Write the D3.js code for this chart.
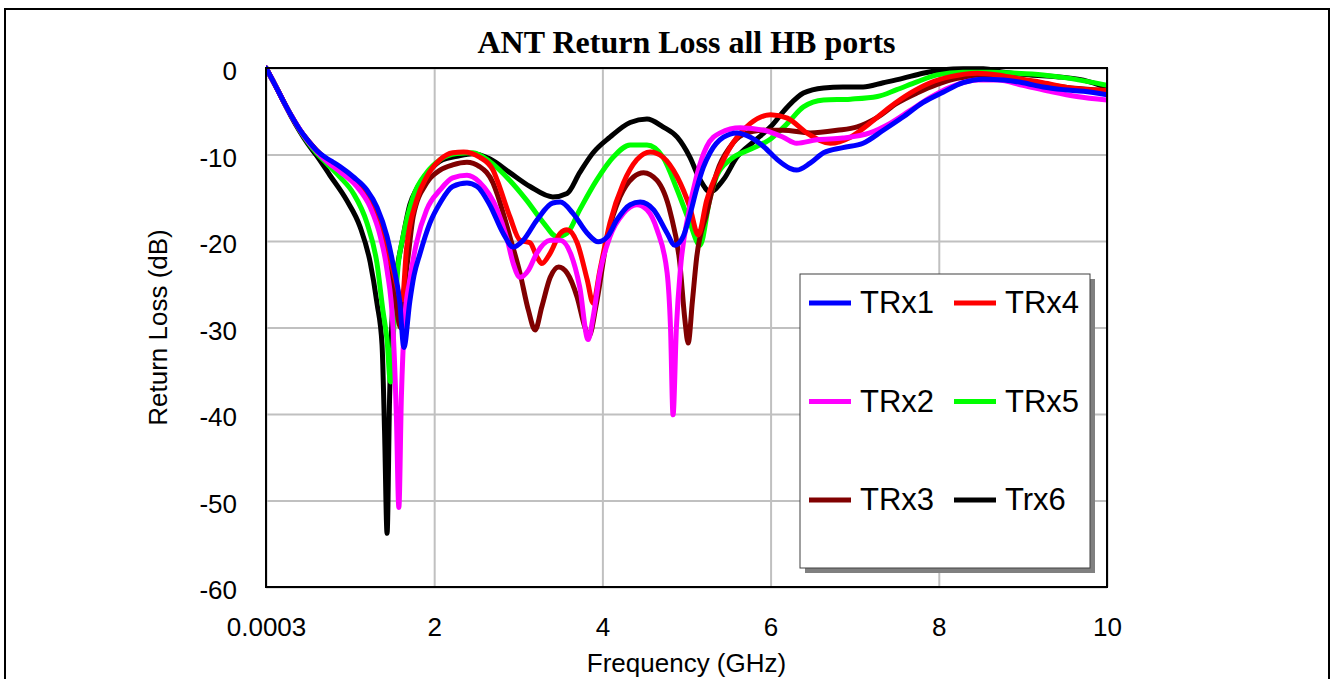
<!DOCTYPE html>
<html>
<head>
<meta charset="utf-8">
<script src="https://cdn.jsdelivr.net/npm/d3@7"></script>
<style>
  body { margin: 0; background: #fff; }
  text { font-family: Arial, "Liberation Sans", sans-serif; }
</style>
</head>
<body>
<svg id="chart" width="1333" height="679"></svg>
<script>
// series names + colours
var seriesNames = ["TRx1", "TRx2", "TRx3", "TRx4", "TRx5", "Trx6"];
var seriesColors = ["#0000ff", "#ff00ff", "#800000", "#ff0000", "#00ff00", "#000000"];

// tick labels
var xTicks = [0.0003, 2, 4, 6, 8, 10];
var xTickLabels = ["0.0003", "2", "4", "6", "8", "10"];
var yTicks = [0, -10, -20, -30, -40, -50, -60];
var yTickLabels = ["0", "-10", "-20", "-30", "-40", "-50", "-60"];

// [frequency GHz, return loss dB]
var trx1 = [[0.0003,0],[0.1,-1.8],[0.2,-3.7],[0.3,-5.5],[0.4,-7.1],[0.5,-8.4],[0.6,-9.5],[0.7,-10.3],[0.8,-10.9],[0.88,-11.4],[1.04,-12.6],[1.2,-14.1],[1.32,-16.1],[1.44,-19.5],[1.51,-22.6],[1.59,-27],[1.64,-32.3],[1.71,-27],[1.76,-24],[1.83,-21.5],[1.95,-17.9],[2.07,-15.6],[2.22,-13.7],[2.39,-13.3],[2.51,-13.7],[2.66,-15.8],[2.82,-19.1],[2.94,-20.7],[3.06,-19.9],[3.22,-17.6],[3.41,-15.6],[3.5,-15.5],[3.65,-16.8],[3.82,-19.1],[3.95,-20.1],[4.06,-19.5],[4.17,-17.6],[4.33,-15.8],[4.45,-15.5],[4.61,-16.4],[4.77,-19.1],[4.86,-20.5],[4.96,-19.5],[5.04,-17],[5.12,-14],[5.2,-11.5],[5.28,-9.8],[5.44,-8.0],[5.6,-7.5],[5.76,-8.0],[5.92,-9.1],[6.08,-10.6],[6.23,-11.6],[6.31,-11.8],[6.47,-11.0],[6.63,-9.8],[6.86,-9.2],[7.1,-8.7],[7.34,-7.2],[7.57,-5.7],[7.81,-4.0],[8.05,-2.8],[8.29,-1.7],[8.53,-1.3],[8.77,-1.4],[9.0,-1.7],[9.24,-2.2],[9.48,-2.5],[9.72,-2.7],[10,-3.1]];
var trx2 = [[0.0003,0],[0.1,-1.8],[0.2,-3.7],[0.3,-5.5],[0.4,-7.1],[0.5,-8.5],[0.6,-9.6],[0.7,-10.6],[0.8,-11.4],[0.88,-12.0],[1.08,-13.7],[1.24,-16.1],[1.36,-19.5],[1.44,-23.4],[1.51,-30],[1.55,-40],[1.58,-50.8],[1.61,-38],[1.65,-29],[1.71,-24.5],[1.79,-20.2],[1.91,-16.4],[2.07,-14.1],[2.22,-12.7],[2.39,-12.4],[2.54,-13.2],[2.75,-16.4],[2.87,-19.9],[2.94,-22.6],[3.02,-24.2],[3.12,-23.4],[3.22,-21.4],[3.38,-19.9],[3.5,-19.9],[3.62,-21.4],[3.73,-25.3],[3.83,-31.4],[3.89,-28.8],[3.97,-23.7],[4.09,-19.5],[4.25,-16.8],[4.41,-15.8],[4.53,-16.4],[4.65,-18.7],[4.77,-23.7],[4.81,-30],[4.84,-40.1],[4.88,-30],[4.93,-23],[5.02,-17],[5.12,-12.5],[5.24,-9.1],[5.4,-7.5],[5.64,-6.9],[5.92,-7.2],[6.15,-8.0],[6.31,-8.7],[6.55,-8.3],[6.86,-8.1],[7.18,-7.5],[7.42,-6.4],[7.66,-4.9],[7.9,-3.4],[8.14,-2.2],[8.46,-1.4],[8.7,-1.4],[9.0,-2.0],[9.32,-2.7],[9.64,-3.3],[10,-3.7]];
var trx3 = [[0.0003,0],[0.1,-1.8],[0.2,-3.7],[0.3,-5.5],[0.4,-7.1],[0.5,-8.4],[0.6,-9.5],[0.7,-10.4],[0.8,-11.1],[0.88,-11.6],[1.04,-13],[1.2,-15],[1.36,-19],[1.46,-23],[1.54,-27],[1.6,-30],[1.64,-26],[1.7,-21],[1.75,-17.2],[1.91,-13.3],[2.07,-11.8],[2.22,-11.2],[2.39,-10.9],[2.54,-11.4],[2.7,-13.3],[2.75,-14.6],[2.9,-19.5],[3.02,-23.7],[3.12,-28],[3.2,-30.3],[3.28,-27.6],[3.38,-24.2],[3.48,-23],[3.58,-23.7],[3.7,-26.5],[3.79,-29.9],[3.84,-31],[3.93,-27.2],[4.06,-19.5],[4.21,-14.9],[4.37,-12.6],[4.49,-12.1],[4.65,-13],[4.81,-16.8],[4.92,-22.5],[4.98,-29],[5.02,-31.8],[5.07,-27],[5.12,-22],[5.24,-16.8],[5.36,-12.1],[5.52,-9.1],[5.67,-7.7],[5.92,-7.2],[6.15,-7.2],[6.47,-7.5],[6.79,-7.2],[7.03,-6.8],[7.27,-5.7],[7.5,-4.1],[7.74,-2.9],[7.98,-1.9],[8.22,-1.2],[8.53,-0.9],[8.85,-1.2],[9.17,-1.7],[9.48,-2.2],[10,-2.6]];
var trx4 = [[0.0003,0],[0.1,-1.8],[0.2,-3.7],[0.3,-5.5],[0.4,-7.1],[0.5,-8.4],[0.6,-9.5],[0.7,-10.4],[0.8,-11.0],[0.88,-11.5],[1.04,-12.8],[1.2,-14.6],[1.36,-18.5],[1.5,-23],[1.62,-26.8],[1.67,-21],[1.79,-15.3],[1.91,-12.6],[2.07,-10.6],[2.22,-9.8],[2.35,-9.7],[2.54,-10.3],[2.7,-11.8],[2.75,-13.0],[2.9,-17.2],[3.02,-19.9],[3.14,-20.2],[3.22,-21.8],[3.28,-22.6],[3.38,-21.4],[3.5,-19.1],[3.58,-18.7],[3.7,-20.2],[3.82,-24.5],[3.89,-27.2],[3.97,-23.4],[4.09,-17.9],[4.25,-13.3],[4.41,-10.6],[4.57,-9.7],[4.72,-10.3],[4.89,-12.6],[5.04,-16.1],[5.14,-19.3],[5.24,-15.3],[5.4,-11.4],[5.6,-8.0],[5.76,-6.4],[6.0,-5.4],[6.2,-5.8],[6.43,-7.5],[6.71,-8.7],[6.95,-8.0],[7.18,-6.4],[7.42,-4.5],[7.66,-2.9],[7.9,-1.7],[8.14,-1.0],[8.46,-0.6],[8.7,-0.8],[8.93,-1.2],[9.24,-1.7],[9.56,-2.3],[10,-2.6]];
var trx5 = [[0.0003,0],[0.1,-1.8],[0.2,-3.7],[0.3,-5.5],[0.4,-7.2],[0.5,-8.6],[0.6,-9.8],[0.72,-11],[0.88,-12.6],[1.04,-14.5],[1.2,-17.9],[1.32,-22.6],[1.39,-28],[1.44,-31.5],[1.48,-36.3],[1.52,-30],[1.57,-23],[1.63,-19.5],[1.75,-14.9],[1.91,-12.1],[2.07,-10.6],[2.27,-9.9],[2.46,-9.8],[2.66,-10.8],[2.9,-13.0],[3.1,-15.3],[3.3,-17.9],[3.46,-19.5],[3.58,-19.1],[3.73,-16.4],[3.93,-13.0],[4.13,-10.3],[4.33,-8.9],[4.53,-8.9],[4.72,-10.3],[4.89,-14.1],[5.04,-17.9],[5.16,-20.5],[5.28,-15],[5.36,-12.5],[5.52,-10.6],[5.76,-9.4],[6.0,-8.2],[6.2,-6.4],[6.39,-4.5],[6.63,-3.7],[6.95,-3.6],[7.27,-3.3],[7.5,-2.5],[7.74,-1.6],[7.98,-0.8],[8.29,-0.5],[8.61,-0.5],[8.93,-0.6],[9.24,-0.8],[9.56,-1.2],[10,-2.0]];
var trx6 = [[0.0003,0],[0.1,-1.8],[0.2,-3.7],[0.3,-5.6],[0.4,-7.3],[0.5,-8.8],[0.6,-10.1],[0.76,-12.4],[0.96,-15.3],[1.12,-18.4],[1.24,-22.5],[1.32,-27.2],[1.38,-32],[1.41,-42],[1.44,-53.8],[1.47,-38],[1.51,-27],[1.57,-22.5],[1.62,-20],[1.71,-15.8],[1.79,-14],[1.95,-11.8],[2.1,-10.6],[2.27,-10.2],[2.46,-9.9],[2.66,-10.5],[2.9,-12.1],[3.14,-13.7],[3.41,-14.9],[3.58,-14.5],[3.73,-12.1],[3.89,-9.8],[4.09,-8.0],[4.33,-6.3],[4.53,-5.9],[4.72,-6.8],[4.89,-8.0],[5.04,-10.3],[5.16,-12.9],[5.28,-14.3],[5.44,-12.9],[5.6,-10.3],[5.8,-8.5],[6.0,-6.8],[6.2,-4.5],[6.39,-2.9],[6.63,-2.3],[6.86,-2.2],[7.1,-2.2],[7.34,-1.7],[7.57,-1.2],[7.81,-0.6],[8.05,-0.2],[8.29,-0.1],[8.53,-0.1],[8.77,-0.5],[9.09,-0.8],[9.4,-1.0],[9.72,-1.4],[10,-2.3]];

var seriesData = [trx1, trx2, trx3, trx4, trx5, trx6];
// back-to-front drawing order (blue ends on top)
var drawOrder = [5, 4, 2, 3, 1, 0];

var svg = d3.select("#chart");

// outer frame
svg.append("rect")
    .attr("x", 5).attr("y", 9)
    .attr("width", 1324).attr("height", 690)
    .attr("fill", "none").attr("stroke", "#000").attr("stroke-width", 2);

var margin = {top: 68, right: 226, bottom: 92, left: 266};
var width = 1333 - margin.left - margin.right;
var height = 679 - margin.top - margin.bottom;

var g = svg.append("g")
    .attr("transform", "translate(" + margin.left + "," + margin.top + ")");

var x = d3.scaleLinear().domain([0.0003, 10]).range([0, width]);
var y = d3.scaleLinear().domain([-60, 0]).range([height, 0]);

// grid
g.append("g")
    .attr("transform", "translate(0," + height + ")")
    .call(d3.axisBottom(x).tickValues(xTicks).tickSize(-height).tickFormat(""))
    .call(function (s) {
        s.select(".domain").remove();
        s.selectAll("line").attr("stroke", "#c0c0c0").attr("stroke-width", 2);
    });
g.append("g")
    .call(d3.axisLeft(y).tickValues(yTicks).tickSize(-width).tickFormat(""))
    .call(function (s) {
        s.select(".domain").remove();
        s.selectAll("line").attr("stroke", "#c0c0c0").attr("stroke-width", 2);
    });

// tick labels
var xAxis = g.append("g")
    .attr("transform", "translate(0," + height + ")")
    .call(d3.axisBottom(x).tickValues(xTicks).tickSize(0).tickPadding(31)
        .tickFormat(function (d, i) { return xTickLabels[i]; }));
var yAxis = g.append("g")
    .call(d3.axisLeft(y).tickValues(yTicks).tickSize(0).tickPadding(29)
        .tickFormat(function (d, i) { return yTickLabels[i]; }));
[xAxis, yAxis].forEach(function (a) {
    a.select(".domain").remove();
    a.attr("font-family", "Arial, 'Liberation Sans', sans-serif").attr("font-size", 26);
    a.selectAll("text").attr("fill", "#000");
});
yAxis.selectAll("text").attr("dy", "0.45em");

// curves
var line = d3.line()
    .x(function (d) { return x(d[0]); })
    .y(function (d) { return y(d[1]); })
    .curve(d3.curveMonotoneX);

svg.append("clipPath").attr("id", "plotclip")
    .append("rect").attr("x", 0).attr("y", -3).attr("width", width).attr("height", height + 3);

g.append("g").attr("clip-path", "url(#plotclip)")
    .selectAll("path")
    .data(drawOrder)
    .enter()
    .append("path")
    .attr("d", function (i) { return line(seriesData[i]); })
    .attr("fill", "none")
    .attr("stroke", function (i) { return seriesColors[i]; })
    .attr("stroke-width", 5)
    .attr("stroke-linejoin", "round")
    .attr("stroke-linecap", "round");

// plot frame
g.append("rect")
    .attr("width", width).attr("height", height)
    .attr("fill", "none").attr("stroke", "#000").attr("stroke-width", 2);

// titles
svg.append("text")
    .attr("x", margin.left + width / 2).attr("y", 53)
    .attr("text-anchor", "middle")
    .style("font-family", "'Liberation Serif', 'Times New Roman', serif")
    .attr("font-weight", "bold").attr("font-size", 32)
    .text("ANT Return Loss all HB ports");

svg.append("text")
    .attr("x", margin.left + width / 2).attr("y", 672)
    .attr("text-anchor", "middle").attr("font-size", 26)
    .text("Frequency (GHz)");

svg.append("text")
    .attr("transform", "translate(167," + (margin.top + height / 2) + ") rotate(-90)")
    .attr("text-anchor", "middle").attr("font-size", 26)
    .text("Return Loss (dB)");

// legend
var lg = svg.append("g").attr("transform", "translate(800,274)");
lg.append("rect").attr("x", 5).attr("y", 5).attr("width", 290).attr("height", 294).attr("fill", "#808080");
lg.append("rect").attr("width", 290).attr("height", 294)
    .attr("fill", "#fff").attr("stroke", "#404040").attr("stroke-width", 1);

var legendOrder = [0, 3, 1, 4, 2, 5];
var items = lg.selectAll(".item")
    .data(legendOrder)
    .enter()
    .append("g")
    .attr("transform", function (d, k) {
        return "translate(" + (9 + (k % 2) * 145) + "," + (29 + Math.floor(k / 2) * 98.5) + ")";
    });
items.append("line")
    .attr("x1", 0).attr("x2", 42)
    .attr("stroke", function (i) { return seriesColors[i]; })
    .attr("stroke-width", 5);
items.append("text")
    .attr("x", 51).attr("y", 10)
    .attr("font-size", 31)
    .text(function (i) { return seriesNames[i]; });
</script>
</body>
</html>
